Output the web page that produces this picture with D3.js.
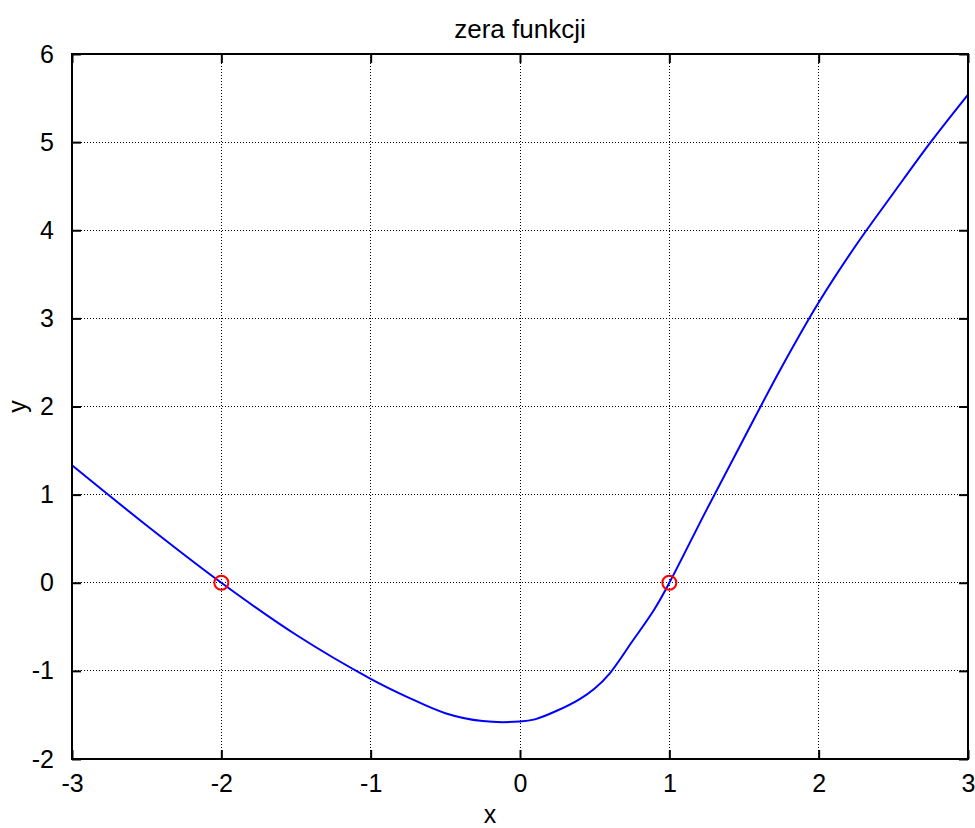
<!DOCTYPE html>
<html>
<head>
<meta charset="utf-8">
<script src="https://cdn.jsdelivr.net/npm/d3@7"></script>
<style>
  body { margin: 0; background: #fff; }
  text { font-family: "Liberation Sans", Arial, sans-serif; fill: #000; }
  .grid line { stroke: #000; stroke-width: 1; stroke-dasharray: 1,2; shape-rendering: crispEdges; }
</style>
</head>
<body>
<div id="chart"></div>
<script>
// values
const xs = [-3, -2.5, -2, -1.5, -1, -0.75, -0.5, -0.25, 0, 0.1, 0.25, 0.4, 0.5, 0.6, 0.75, 0.9, 1, 1.25, 1.5, 1.75, 2, 2.25, 2.5, 2.75, 3]
const ys = [1.333, 0.65, 0, -0.59, -1.09, -1.3, -1.48, -1.57, -1.575, -1.55, -1.45, -1.32, -1.2, -1.03, -0.67, -0.3, 0, 0.83, 1.64, 2.44, 3.18, 3.83, 4.42, 5.0, 5.54]
const zeroX = [-2, 1]
const zeroY = [0, 0]
const xTicks = [-3, -2, -1, 0, 1, 2, 3]
const yTicks = [-2, -1, 0, 1, 2, 3, 4, 5, 6]

const width = 975
const height = 828
const margin = { top: 54, right: 7, bottom: 69, left: 72 }
const w = width - margin.left - margin.right
const h = height - margin.top - margin.bottom

const svg = d3.select("#chart").append("svg")
    .attr("width", width)
    .attr("height", height)

const g = svg.append("g")
    .attr("transform", `translate(${margin.left},${margin.top})`)

const x = d3.scaleLinear().domain([-3, 3]).range([0, w])
const y = d3.scaleLinear().domain([-2, 6]).range([h, 0])

// grid
const grid = g.append("g").attr("class", "grid")
grid.selectAll(".gx")
  .data(xTicks.slice(1, -1))
  .join("line")
    .attr("x1", d => x(d)).attr("x2", d => x(d))
    .attr("y1", 0).attr("y2", h)
grid.selectAll(".gy")
  .data(yTicks.slice(1, -1))
  .join("line")
    .attr("class", "gy")
    .attr("x1", 0).attr("x2", w)
    .attr("y1", d => y(d)).attr("y2", d => y(d))

// curve
const line = d3.line()
  .x((d, i) => x(xs[i]))
  .y(d => y(d))
  .curve(d3.curveCatmullRom.alpha(0.5))

g.append("path")
    .datum(ys)
    .attr("fill", "none")
    .attr("stroke", "#0000ff")
    .attr("stroke-width", 2)
    .attr("d", line)

// zero markers
g.selectAll(".zero")
  .data(zeroX)
  .join("circle")
    .attr("cx", d => x(d))
    .attr("cy", (d, i) => y(zeroY[i]))
    .attr("r", 7)
    .attr("fill", "none")
    .attr("stroke", "#ff0000")
    .attr("stroke-width", 2)

// axes (ticks inside, mirrored)
const tickLen = 9
const fmt = d => String(d)
const styleAxis = sel => {
  sel.select(".domain").remove()
  sel.selectAll(".tick line").attr("stroke", "#000").attr("stroke-width", 2)
  sel.selectAll(".tick text")
    .style("font-size", "25px")
    .style("font-family", "'Liberation Sans', Arial, sans-serif")
}

g.append("g")
    .attr("transform", `translate(0,${h})`)
    .call(d3.axisBottom(x).tickValues(xTicks).tickSize(-tickLen).tickPadding(15).tickFormat(fmt))
    .call(styleAxis)
g.append("g")
    .call(d3.axisTop(x).tickValues(xTicks).tickSize(-tickLen).tickFormat(""))
    .call(styleAxis)
g.append("g")
    .call(d3.axisLeft(y).tickValues(yTicks).tickSize(-tickLen).tickPadding(18).tickFormat(fmt))
    .call(styleAxis)
g.append("g")
    .attr("transform", `translate(${w},0)`)
    .call(d3.axisRight(y).tickValues(yTicks).tickSize(-tickLen).tickFormat(""))
    .call(styleAxis)

// frame
g.append("rect")
    .attr("width", w)
    .attr("height", h)
    .attr("fill", "none")
    .attr("stroke", "#000")
    .attr("stroke-width", 2)

// labels
svg.append("text")
    .attr("x", margin.left + w / 2)
    .attr("y", 38)
    .attr("text-anchor", "middle")
    .style("font-size", "26px")
    .text("zera funkcji")

svg.append("text")
    .attr("x", 490)
    .attr("y", 823)
    .attr("text-anchor", "middle")
    .style("font-size", "25px")
    .text("x")

svg.append("text")
    .attr("transform", `translate(26,${margin.top + h / 2}) rotate(-90)`)
    .attr("text-anchor", "middle")
    .style("font-size", "25px")
    .text("y")
</script>
</body>
</html>
